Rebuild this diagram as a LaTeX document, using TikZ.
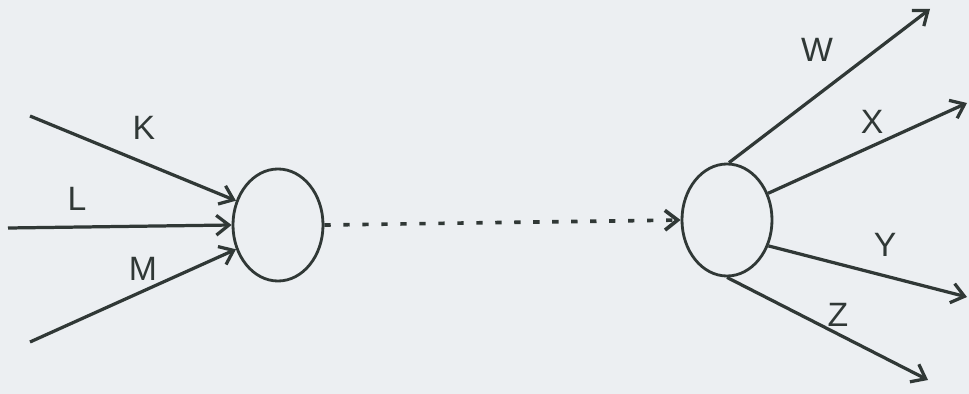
\documentclass[tikz,border=0pt]{standalone}
\usepackage{fontspec}
\setmainfont{Liberation Sans}
\usetikzlibrary{shapes.geometric,arrows.meta,positioning}
\definecolor{inkgray}{RGB}{48,56,54}
\definecolor{papergray}{RGB}{236,239,242}

\begin{document}
\begin{tikzpicture}[
    x=0.025cm, y=-0.025cm,
    state/.style={ellipse, draw=inkgray, line width=2pt, minimum width=2.25cm, minimum height=2.8cm, inner sep=0pt},
    arrow/.style={draw=inkgray, line width=2.3pt, -{Straight Barb[length=9pt,width=14pt]}},
    letter/.style={text=inkgray, font=\fontsize{24}{28}\selectfont, inner sep=0pt}
]

% Background
\fill[papergray] (0,0) rectangle (969,394);
\useasboundingbox (0,0) rectangle (969,394);

% States
\node[state] (in) at (278,225) {};
\node[state] (out) at (727,220) {};

% Free ends
\coordinate (k) at (30,116);
\coordinate (l) at (8,228);
\coordinate (m) at (30,342);
\coordinate (w) at (930,9);
\coordinate (x) at (967,103);
\coordinate (y) at (967,297);
\coordinate (z) at (928,380);

% Labels
\node[letter] (klab) at (144,128) {K};
\node[letter] (llab) at (77,199) {L};
\node[letter] (mlab) at (143,269) {M};
\node[letter] (wlab) at (817,50) {W};
\node[letter] (xlab) at (872,122) {X};
\node[letter] (ylab) at (885,245) {Y};
\node[letter] (zlab) at (838,315) {Z};

% Arrows
\draw[arrow] (k) -- (in.150);
\draw[arrow] (l) -- (in.180);
\draw[arrow] (m) -- (in.210);
\draw[arrow, line width=2.6pt, dash pattern=on 4.5pt off 9pt] (in.east) -- (out.west);
\draw[arrow] (out.88) -- (w);
\draw[arrow] (out.33) -- (x);
\draw[arrow] (out.-32) -- (y);
\draw[arrow] (out.-90) -- (z);

\end{tikzpicture}
\end{document}
